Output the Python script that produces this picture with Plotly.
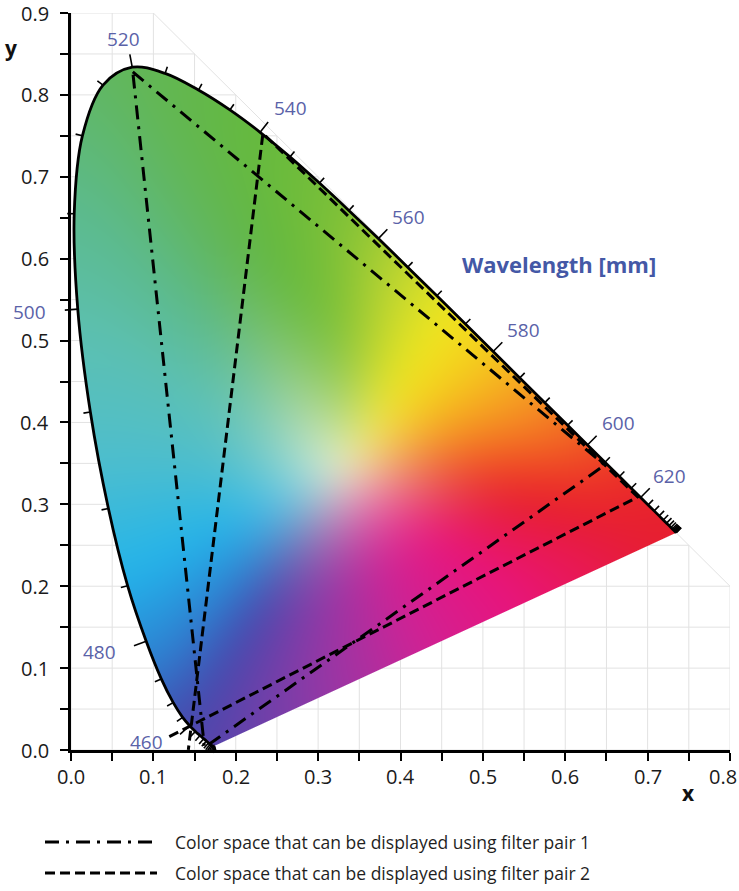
import base64
import struct
import zlib

import numpy as np
import plotly.graph_objects as go

# ------------------------------------------------------------------ data
wavelength = [380, 385, 390, 395, 400, 405, 410, 415, 420, 425, 430, 435, 440, 445, 450,
              455, 460, 465, 470, 475, 480, 485, 490, 495, 500, 505, 510, 515, 520, 525,
              530, 535, 540, 545, 550, 555, 560, 565, 570, 575, 580, 585, 590, 595, 600,
              605, 610, 615, 620, 625, 630, 635, 640, 645, 650, 655, 660, 665, 670, 675,
              680, 685, 690, 695, 700]
locus_x = [0.1741, 0.1740, 0.1738, 0.1736, 0.1733, 0.1730, 0.1726, 0.1721, 0.1714, 0.1703,
           0.1689, 0.1669, 0.1644, 0.1611, 0.1566, 0.1510, 0.1440, 0.1355, 0.1241, 0.1096,
           0.0913, 0.0687, 0.0454, 0.0235, 0.0082, 0.0039, 0.0139, 0.0389, 0.0743, 0.1142,
           0.1547, 0.1929, 0.2296, 0.2658, 0.3016, 0.3373, 0.3731, 0.4087, 0.4441, 0.4788,
           0.5125, 0.5448, 0.5752, 0.6029, 0.6270, 0.6482, 0.6658, 0.6801, 0.6915, 0.7006,
           0.7079, 0.7140, 0.7190, 0.7230, 0.7260, 0.7283, 0.7300, 0.7311, 0.7320, 0.7327,
           0.7334, 0.7340, 0.7344, 0.7346, 0.7347]
locus_y = [0.0050, 0.0050, 0.0049, 0.0049, 0.0048, 0.0048, 0.0048, 0.0048, 0.0051, 0.0058,
           0.0069, 0.0086, 0.0109, 0.0138, 0.0177, 0.0227, 0.0297, 0.0399, 0.0578, 0.0868,
           0.1327, 0.2007, 0.2950, 0.4127, 0.5384, 0.6548, 0.7502, 0.8120, 0.8338, 0.8262,
           0.8059, 0.7816, 0.7543, 0.7243, 0.6923, 0.6589, 0.6245, 0.5896, 0.5547, 0.5202,
           0.4866, 0.4544, 0.4242, 0.3965, 0.3725, 0.3514, 0.3340, 0.3197, 0.3083, 0.2993,
           0.2920, 0.2859, 0.2809, 0.2770, 0.2740, 0.2717, 0.2700, 0.2689, 0.2680, 0.2673,
           0.2666, 0.2660, 0.2656, 0.2654, 0.2653]

label_wavelengths = [460, 480, 500, 520, 540, 560, 580, 600, 620]
label_x = [0.092, 0.035, -0.050, 0.0635, 0.266, 0.4095, 0.549, 0.6645, 0.727]
label_y = [0.010, 0.120, 0.535, 0.868, 0.784, 0.651, 0.513, 0.399, 0.334]

pair1_x = [0.075, 0.648, 0.162]   # green, red, blue primaries
pair1_y = [0.828, 0.348, 0.003]
pair2_x = [0.233, 0.688, 0.146]
pair2_y = [0.753, 0.309, 0.030]

legend_labels = ["Color space that can be displayed using filter pair 1",
                 "Color space that can be displayed using filter pair 2"]
title_text = "Wavelength [mm]"
title_x, title_y = 0.593, 0.594

x_tick_vals = [0.0, 0.1, 0.2, 0.3, 0.4, 0.5, 0.6, 0.7, 0.8]
y_tick_vals = [0.0, 0.1, 0.2, 0.3, 0.4, 0.5, 0.6, 0.7, 0.8, 0.9]

# colours of the fill (point on the rim -> colour)
white_point = (0.33, 0.34)
white_rgb = (240, 244, 215)
anchor_x = [0.735, 0.68, 0.63, 0.58, 0.52, 0.46, 0.40, 0.32, 0.20, 0.08, 0.01, 0.005,
            0.03, 0.065, 0.10, 0.14, 0.20, 0.30, 0.42, 0.55, 0.65]
anchor_y = [0.265, 0.32, 0.37, 0.42, 0.48, 0.54, 0.60, 0.68, 0.78, 0.83, 0.68, 0.52,
            0.36, 0.21, 0.10, 0.03, 0.017, 0.064, 0.12, 0.18, 0.226]
anchor_rgb = [(230, 30, 45), (236, 48, 40), (241, 95, 35), (245, 145, 35), (245, 198, 30),
              (242, 232, 30), (192, 214, 48), (125, 192, 55), (100, 185, 62), (98, 182, 85),
              (92, 186, 140), (92, 192, 178), (78, 190, 205), (35, 180, 235), (45, 130, 210),
              (68, 72, 172), (105, 65, 170), (150, 55, 165), (205, 35, 150), (232, 20, 125),
              (232, 25, 80)]

# ------------------------------------------------------------------ geometry
FIG_W, FIG_H = 739, 891
M_L, M_R, M_T, M_B = 40, 9, 13, 110
AX_L, AX_R, AX_T, AX_B = 71, 730, 13, 750       # pixel box of x:[0,0.8], y:[0,0.9]
X_MAX, Y_MAX = 0.8, 0.9
PW, PH = FIG_W - M_L - M_R, FIG_H - M_T - M_B
KX = (AX_R - AX_L) / X_MAX
KY = (AX_B - AX_T) / Y_MAX
PAPER_B = FIG_H - M_B


def px_x(p):
    return (p - M_L) / PW


def px_y(p):
    return (PAPER_B - p) / PH


def data_px(x, y):
    return AX_L + x * KX, AX_B - y * KY


lx = np.array(locus_x)
ly = np.array(locus_y)


# smooth curve identical to plotly's spline (computed in pixel space)
def smooth_curve(xd, yd, n=14, s=1.0):
    P = np.column_stack([xd * KX, yd * KY])
    N = len(P)
    tang = []
    for i in range(1, N - 1):
        d1 = P[i - 1] - P[i]
        d2 = P[i + 1] - P[i]
        d1a = np.hypot(*d1) ** 0.5
        d2a = np.hypot(*d2) ** 0.5
        num = (d2a ** 2 * d1 - d1a ** 2 * d2) * s
        den1 = 3 * d2a * (d1a + d2a)
        den2 = 3 * d1a * (d1a + d2a)
        tang.append((P[i] + (num / den1 if den1 else 0), P[i] - (num / den2 if den2 else 0)))
    t = np.linspace(0, 1, n, endpoint=False)[:, None]
    out = [(1 - t) ** 2 * P[0] + 2 * (1 - t) * t * tang[0][0] + t ** 2 * P[1]]
    for i in range(2, N - 1):
        a, b, c, d = P[i - 1], tang[i - 2][1], tang[i - 1][0], P[i]
        out.append((1 - t) ** 3 * a + 3 * (1 - t) ** 2 * t * b + 3 * (1 - t) * t ** 2 * c + t ** 3 * d)
    a, b, c = P[N - 2], tang[N - 3][1], P[N - 1]
    tt = np.linspace(0, 1, n)[:, None]
    out.append((1 - tt) ** 2 * a + 2 * (1 - tt) * tt * b + tt ** 2 * c)
    pts = np.vstack(out)
    return pts[:, 0] / KX, pts[:, 1] / KY


cx, cy = smooth_curve(lx, ly)

# ------------------------------------------------------------------ colour image
nx = int(round(AX_R - AX_L))
ny = int(round(AX_B - AX_T))
xs = (np.arange(nx) + 0.5) / KX
ys = (np.arange(ny) + 0.5) / KY
X, Y = np.meshgrid(xs, ys)

px_poly = np.concatenate([cx, [lx[-1], lx[0]]])
py_poly = np.concatenate([cy, [-0.05, -0.05]])
x1, y1 = px_poly, py_poly
x2, y2 = np.roll(px_poly, -1), np.roll(py_poly, -1)
mask = np.zeros((ny, nx), dtype=float)
for r, yc in enumerate(ys):
    cond = (y1 > yc) != (y2 > yc)
    if not cond.any():
        continue
    xc = x1[cond] + (yc - y1[cond]) * (x2[cond] - x1[cond]) / (y2[cond] - y1[cond])
    xc.sort()
    for a, b in zip(xc[0::2], xc[1::2]):
        mask[r] = np.maximum(mask[r], np.clip(np.minimum(xs - a, b - xs) * KX + 0.5, 0, 1))

ax_, ay_ = lx[0] * KX, ly[0] * KY
bx_, by_ = lx[-1] * KX, ly[-1] * KY
ln = np.hypot(bx_ - ax_, by_ - ay_)
dist = ((bx_ - ax_) * (Y * KY - ay_) - (by_ - ay_) * (X * KX - ax_)) / ln
alpha = mask * np.clip(dist + 0.5, 0, 1)

wx, wy = white_point
a_ang = np.arctan2(np.array(anchor_y) - wy, np.array(anchor_x) - wx)
a_rad = np.hypot(np.array(anchor_y) - wy, np.array(anchor_x) - wx)
order = np.argsort(a_ang)
a_ang, a_rad = a_ang[order], a_rad[order]
a_col = np.array(anchor_rgb, dtype=float)[order]
ang = np.arctan2(Y - wy, X - wx)
rad = np.hypot(Y - wy, X - wx)
R = np.interp(ang, a_ang, a_rad, period=2 * np.pi)
t = np.clip(rad / R / 0.6, 0, 1)
f = 1 - (1 - t) ** 2
wc = np.array(white_rgb, dtype=float)

SIG = 20.0


def gmat(n):
    i = np.arange(n)
    return np.exp(-0.5 * ((i[:, None] - i[None, :]) / SIG) ** 2)


GY, GX = gmat(ny), gmat(nx)
wgt = (alpha > 0.01).astype(float)
den = GY @ wgt @ GX.T
den[den < 1e-9] = 1e-9
rgb = np.empty((ny, nx, 3))
for k in range(3):
    hue = np.interp(ang, a_ang, a_col[:, k], period=2 * np.pi)
    ch = wc[k] + (hue - wc[k]) * f
    rgb[..., k] = (GY @ (ch * wgt) @ GX.T) / den
rgba = np.dstack([np.clip(rgb, 0, 255), alpha * 255]).round().astype(np.uint8)


def png_uri(arr):
    h, w, _ = arr.shape
    raw = b"".join(b"\x00" + arr[i].tobytes() for i in range(h))

    def chunk(tag, data):
        c = struct.pack(">I", len(data)) + tag + data
        return c + struct.pack(">I", zlib.crc32(tag + data) & 0xFFFFFFFF)

    png = (b"\x89PNG\r\n\x1a\n" + chunk(b"IHDR", struct.pack(">IIBBBBB", w, h, 8, 6, 0, 0, 0))
           + chunk(b"IDAT", zlib.compress(raw, 9)) + chunk(b"IEND", b""))
    return "data:image/png;base64," + base64.b64encode(png).decode()


fig = go.Figure()
fig.add_trace(go.Image(source=png_uri(rgba), x0=xs[0], dx=1 / KX, y0=ys[0], dy=1 / KY,
                       xaxis="x", yaxis="y", hoverinfo="skip"))

# ------------------------------------------------------------------ locus outline + ticks
fig.add_trace(go.Scatter(x=locus_x, y=locus_y, mode="lines",
                         line=dict(color="black", width=2.8, shape="spline"),
                         xaxis="x2", yaxis="y2", showlegend=False, hoverinfo="skip"))

Pp = np.column_stack([lx * KX, ly * KY])
tx, ty = [], []
for i, w in enumerate(wavelength):
    a = Pp[max(i - 1, 0)]
    b = Pp[min(i + 1, len(Pp) - 1)]
    tv = (b - a) / np.hypot(*(b - a))
    nrm = np.array([-tv[1], tv[0]])
    L = 13 if w in label_wavelengths else 7
    tx += [lx[i], lx[i] + nrm[0] * L / KX, None]
    ty += [ly[i], ly[i] + nrm[1] * L / KY, None]
fig.add_trace(go.Scatter(x=tx, y=ty, mode="lines", line=dict(color="black", width=1.6),
                         xaxis="x2", yaxis="y2", showlegend=False, hoverinfo="skip"))

# ------------------------------------------------------------------ gamut triangles
DASHDOT = "14px,7px,3px,7px"
DASHED = "10px,5px"
fig.add_trace(go.Scatter(x=pair1_x + pair1_x[:1], y=pair1_y + pair1_y[:1], mode="lines",
                         line=dict(color="black", width=3, dash=DASHDOT),
                         xaxis="x2", yaxis="y2", showlegend=False, hoverinfo="skip"))

ext = 0.03
g2 = np.array([pair2_x[0], pair2_y[0]])
r2 = np.array([pair2_x[1], pair2_y[1]])
b2 = np.array([pair2_x[2], pair2_y[2]])
ea = b2 + (b2 - r2) / np.hypot(*(b2 - r2)) * ext
eb = b2 + (b2 - g2) / np.hypot(*(b2 - g2)) * ext
fig.add_trace(go.Scatter(x=[ea[0], r2[0], g2[0], eb[0]], y=[ea[1], r2[1], g2[1], eb[1]], mode="lines",
                         line=dict(color="black", width=3, dash=DASHED),
                         xaxis="x2", yaxis="y2", showlegend=False, hoverinfo="skip"))

# ------------------------------------------------------------------ grid (inside x + y <= 1)
shapes = []
GRID = "#e2e2e2"
for k in range(0, 17):
    v = k * 0.05
    shapes.append(dict(type="line", xref="x", yref="y", x0=v, x1=v, y0=0, y1=min(Y_MAX, 1 - v),
                       line=dict(color=GRID, width=1), layer="below"))
for k in range(0, 19):
    v = k * 0.05
    shapes.append(dict(type="line", xref="x", yref="y", x0=0, x1=min(X_MAX, 1 - v), y0=v, y1=v,
                       line=dict(color=GRID, width=1), layer="below"))
shapes.append(dict(type="line", xref="x", yref="y", x0=1 - Y_MAX, y0=Y_MAX, x1=X_MAX, y1=1 - X_MAX,
                   line=dict(color=GRID, width=1), layer="below"))

leg_rows = [842, 873]
for row, dash in zip(leg_rows, [DASHDOT, DASHED]):
    shapes.append(dict(type="line", xref="paper", yref="paper", x0=px_x(45), x1=px_x(157),
                       y0=px_y(row), y1=px_y(row), line=dict(color="black", width=3, dash=dash)))

annotations = []


def note(x, y, text, font, xanchor="center", yanchor="middle", xref="paper", yref="paper"):
    annotations.append(dict(x=x, y=y, xref=xref, yref=yref, text=text, showarrow=False,
                            xanchor=xanchor, yanchor=yanchor, font=font))


TICK_FONT = dict(family="Open Sans", size=20, color="#1a1a1a")
for v in x_tick_vals[:-1]:
    note(v, px_y(776), "%.1f" % v, TICK_FONT, xref="x")
note(px_x(739), px_y(776), "%.1f" % x_tick_vals[-1], TICK_FONT, xanchor="right")
for v in y_tick_vals:
    note(px_x(51), v, "%.1f" % v, TICK_FONT, xanchor="right", yref="y")

LABEL_FONT = dict(family="Open Sans", size=19, color="#5a62a8")
for w, x, y in zip(label_wavelengths, label_x, label_y):
    qx, qy = data_px(x, y)
    note(px_x(qx), px_y(qy), str(w), LABEL_FONT)
qx, qy = data_px(title_x, title_y)
note(px_x(qx), px_y(qy), "<b>%s</b>" % title_text, dict(family="Open Sans", size=22, color="#4458a6"))
note(px_x(688), px_y(793), "<b>x</b>", dict(family="Open Sans", size=21, color="#111"))
note(px_x(11), px_y(48), "<b>y</b>", dict(family="Open Sans", size=21, color="#111"))
for row, txt in zip(leg_rows, legend_labels):
    note(px_x(173), px_y(row), txt, dict(family="Open Sans", size=17.5, color="#1f1f1f"), xanchor="left")

axis_common = dict(showgrid=False, zeroline=False, showline=True, linecolor="black", linewidth=3,
                   ticks="outside", ticklen=8, tickwidth=2, tickcolor="black", showticklabels=False,
                   minor=dict(ticks="outside", ticklen=8, tickwidth=2, tickcolor="black", dtick=0.05))

fig.update_layout(
    width=FIG_W, height=FIG_H, margin=dict(l=M_L, r=M_R, t=M_T, b=M_B), autosize=False,
    paper_bgcolor="white", plot_bgcolor="rgba(0,0,0,0)", showlegend=False,
    xaxis=dict(domain=[px_x(AX_L), 1], range=[0, X_MAX], tickvals=x_tick_vals, anchor="y",
               **axis_common),
    yaxis=dict(domain=[px_y(AX_B), 1], range=[0, Y_MAX], tickvals=y_tick_vals, anchor="x",
               scaleanchor=False, **axis_common),
    xaxis2=dict(domain=[0, 1], range=[-(AX_L - M_L) / KX, X_MAX], visible=False, anchor="y2"),
    yaxis2=dict(domain=[0, 1], range=[-(PAPER_B - AX_B) / KY, Y_MAX], visible=False, anchor="x2"),
    shapes=shapes, annotations=annotations,
)

fig.write_html("out.html", config={"displayModeBar": False, "responsive": False},
               post_script="document.body.style.margin='0';")
